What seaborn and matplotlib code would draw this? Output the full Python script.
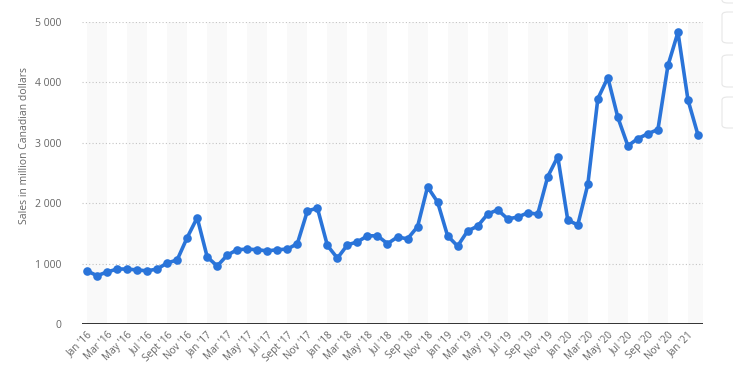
import matplotlib
matplotlib.use("Agg")
import matplotlib.pyplot as plt
import seaborn as sns
import pandas as pd
from matplotlib.patches import FancyBboxPatch

months = ["Jan", "Feb", "Mar", "Apr", "May", "Jun", "Jul", "Aug", "Sep", "Oct", "Nov", "Dec"]
years = ["16", "17", "18", "19", "20", "21"]

sales = [880, 800, 860, 910, 910, 895, 880, 910, 1010, 1060, 1430, 1760,
         1110, 960, 1140, 1230, 1240, 1230, 1210, 1230, 1240, 1330, 1870, 1920,
         1300, 1090, 1310, 1360, 1460, 1460, 1330, 1440, 1410, 1610, 2270, 2020,
         1460, 1290, 1540, 1620, 1820, 1890, 1740, 1770, 1840, 1820, 2440, 2770,
         1720, 1640, 2310, 3730, 4080, 3420, 2950, 3070, 3150, 3220, 4280, 4830,
         3710, 3130]

labels = []
for i in range(len(sales)):
    m = months[i % 12]
    y = years[i // 12]
    if m == "Sep" and y in ("16", "17"):
        m = "Sept"
    labels.append(f"{m} '{y}")

df = pd.DataFrame({"idx": range(len(sales)), "sales": sales})

sns.set_style("white")
plt.rcParams['font.family'] = ['Open Sans', 'DejaVu Sans']

fig = plt.figure(figsize=(7.33, 3.83), dpi=100)
ax = fig.add_axes([82 / 733, 1 - 324 / 383, (703 - 82) / 733, (324 - 22) / 383])

# alternating column bands
for start in range(0, len(sales), 4):
    ax.axvspan(start, start + 2, color="#f9f9f9", zorder=0, lw=0)

for v in [1000, 2000, 3000, 4000, 5000]:
    ax.axhline(v, color="#c4c4c4", lw=0.8, ls=(0, (1, 2)), zorder=1)
ax.axhline(0, color="#111111", lw=1.2, zorder=2)

sns.lineplot(data=df, x="idx", y="sales", ax=ax, color="#2a74d9", lw=2.6,
             marker="o", markersize=6.2, markeredgewidth=0, zorder=3)

ax.set_xlim(-0.5, len(sales) - 0.5)
ax.set_ylim(0, 5000)
ax.set_yticks([0, 1000, 2000, 3000, 4000, 5000])
ax.set_yticklabels(["0", "1 000", "2 000", "3 000", "4 000", "5 000"])
ax.set_xticks(range(0, len(sales), 2))
ax.set_xticklabels(labels[::2], rotation=45, ha="right", va="top", rotation_mode="anchor")
ax.tick_params(axis="y", length=0, pad=15, labelsize=7.5, labelcolor="#666666")
ax.tick_params(axis="x", length=0, pad=4, labelsize=7.2, labelcolor="#666666")
ax.set_xlabel("")
ax.set_ylabel("Sales in million Canadian dollars", fontsize=7.5, color="#666666")
ax.yaxis.set_label_coords(-0.084, 0.59)
for s in ax.spines.values():
    s.set_visible(False)

# side toolbar buttons (partly visible)
for y0, y1 in [(-10, 3), (12, 43), (55, 87), (97, 128)]:
    fig.patches.append(FancyBboxPatch((722 / 733, 1 - y1 / 383), 30 / 733, (y1 - y0) / 383,
                                      boxstyle="round,pad=0,rounding_size=0.008",
                                      transform=fig.transFigure, fc="white", ec="#e6e6e6", lw=0.8))

fig.savefig("out.png", dpi=100)
